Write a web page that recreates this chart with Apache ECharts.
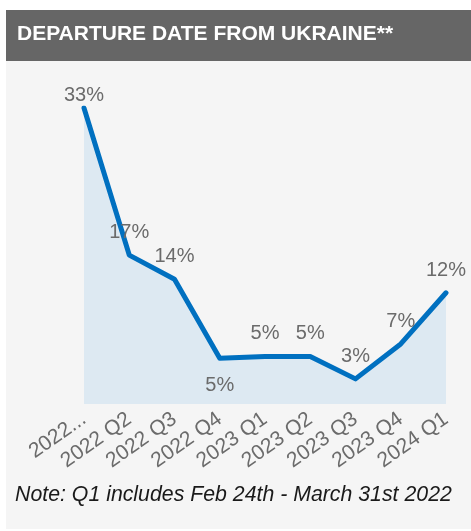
<!DOCTYPE html>
<html>
<head>
<meta charset="utf-8">
<script src="https://cdn.jsdelivr.net/npm/echarts@6/dist/echarts.min.js"></script>
<style>
  html, body { margin: 0; padding: 0; background: #fff; }
  #chart { width: 471px; height: 531px; }
</style>
</head>
<body>
<div id="chart"></div>
<script>
var quarters = ['2022...', '2022 Q2', '2022 Q3', '2022 Q4', '2023 Q1', '2023 Q2', '2023 Q3', '2023 Q4', '2024 Q1'];
var shares = [33, 16.6, 13.9, 5.1, 5.3, 5.3, 2.8, 6.7, 12.4];
var shareLabels = ['33%', '17%', '14%', '5%', '5%', '5%', '3%', '7%', '12%'];

var myChart = echarts.init(document.getElementById('chart'));

var points = shares.map(function (v, i) {
  var item = { value: v };
  if (i === 0) {
    item.label = { distance: 2 };
  } else if (i === 3) {
    item.label = { position: 'bottom', distance: 17 };
  }
  return item;
});

var option = {
  backgroundColor: '#ffffff',
  animation: false,
  graphic: [
    { type: 'rect', z: -10, shape: { x: 6, y: 61, width: 465, height: 468 }, style: { fill: '#f5f5f5' } },
    { type: 'rect', z: -10, shape: { x: 6, y: 10, width: 465, height: 51 }, style: { fill: '#666666' } },
    {
      type: 'text', left: 17, top: 24,
      style: { text: 'DEPARTURE DATE FROM UKRAINE**', fill: '#ffffff', font: 'bold 21px "Liberation Sans", Arial, sans-serif' }
    },
    {
      type: 'text', left: 15, top: 485,
      style: { text: 'Note: Q1 includes Feb 24th - March 31st 2022', fill: '#1a1a1a', font: 'italic 21.3px "Liberation Sans", Arial, sans-serif' }
    }
  ],
  grid: { left: 84, right: 25, top: 108, bottom: 127 },
  xAxis: {
    type: 'category',
    data: quarters,
    boundaryGap: false,
    axisLine: { show: false },
    axisTick: { show: false },
    axisLabel: {
      rotate: 35,
      margin: 13,
      interval: 0,
      color: '#6b6b6b',
      fontSize: 21,
      fontFamily: '"Liberation Sans", Arial, sans-serif'
    }
  },
  yAxis: {
    type: 'value',
    min: 0,
    max: 33,
    show: false,
    splitLine: { show: false }
  },
  series: [{
    type: 'line',
    data: points,
    symbol: 'circle',
    symbolSize: 1,
    lineStyle: { color: '#0070c0', width: 5, cap: 'round', join: 'round' },
    itemStyle: { color: '#0070c0' },
    areaStyle: { color: '#dde9f2', opacity: 1 },
    label: {
      show: true,
      position: 'top',
      distance: 12,
      color: '#6b6b6b',
      fontSize: 20,
      fontFamily: '"Liberation Sans", Arial, sans-serif',
      formatter: function (p) { return shareLabels[p.dataIndex]; }
    }
  }]
};
myChart.setOption(option);
</script>
</body>
</html>
